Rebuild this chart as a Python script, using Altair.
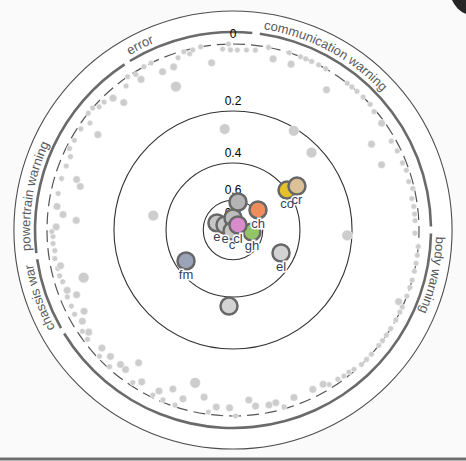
import math
import altair as alt
import pandas as pd

# ---------------- data ----------------
cat_names = ["error", "communication warning", "body warning", "chassis warning", "powertrain warning"]
cat_labels = ["error", "communication warning", "body warning", "chassis war", "powertrain warning"]
cat_start = [328.6, 7.8, 91.0, 240.3, 263.3]
cat_end = [365.6, 89.0, 238.5, 261.5, 326.8]

ring_values = [0.0, 0.2, 0.4, 0.6, 0.8]
ring_labels = ["0", "0.2", "0.4", "0.6", "0.8"]

node_ids = ["e1", "e2", "g2", "c", "g1", "ch", "gh", "cl", "co", "cr", "el", "fm", "b1"]
node_labels = ["e", "e", "", "c", "", "ch", "gh", "cl", "co", "cr", "el", "fm", ""]
node_theta = [293.6, 302.0, 0.0, 225.0, 10.1, 51.3, 96.0, 45.0, 53.5, 55.5, 115.6, 236.6, 183.0]
node_value = [0.693, 0.775, 0.746, 0.913, 0.609, 0.585, 0.680, 0.805, 0.399, 0.354, 0.465, 0.450, 0.360]
node_colors = ["#c6c6c6", "#c6c6c6", "#bdbdbd", "#c6c6c6", "#b4b4b4", "#ef8c5c", "#93c467",
               "#d98ccb", "#e5c22c", "#dcc096", "#d3d3d3", "#9aa3b8", "#d3d3d3"]

dot_theta = [358.6, 356.7, 359.2, 1.4, 4.3, 7.1, 11.0, 13.2, 17.6, 19.3,
             21.3, 23.0, 25.0, 27.4, 29.9, 31.5, 33.7, 37.9, 39.7, 41.8,
             44.4, 45.4, 47.5, 50.0, 54.3, 58.2, 60.7, 64.3, 66.3, 68.4,
             71.0, 74.6, 77.0, 80.0, 82.6, 85.0, 87.0, 91.0, 92.7, 95.1,
             97.8, 100.3, 102.8, 105.6, 108.0, 110.8, 113.4, 114.5, 116.2, 118.9,
             122.0, 124.4, 126.5, 128.4, 131.9, 134.1, 136.3, 139.0, 140.8, 142.8,
             144.9, 148.1, 149.7, 153.4, 160.0, 163.9, 166.1, 168.4, 172.7, 174.7,
             179.2, 181.1, 185.4, 187.7, 189.8, 193.9, 196.5, 198.3, 200.7, 202.4,
             204.7, 205.9, 211.0, 213.3, 215.4, 217.6, 219.9, 222.1, 224.1, 226.6,
             228.0, 233.1, 234.7, 236.1, 238.8, 241.4, 242.0, 244.8, 247.5, 248.0,
             250.0, 252.3, 253.1, 255.2, 257.6, 258.3, 260.9, 263.4, 265.7, 267.9,
             269.5, 271.0, 273.5, 275.2, 277.6, 280.3, 281.8, 285.9, 286.7, 287.9,
             291.0, 294.3, 296.5, 299.5, 303.6, 305.2, 306.8, 308.9, 311.0, 312.6,
             314.8, 317.7, 319.4, 323.4, 325.5, 328.0, 328.6, 331.4, 333.9, 336.0,
             338.3, 340.0, 342.3, 344.6, 346.2, 347.4, 350.0, 352.7, 355.3]
dot_value = [0.000, 0.013, 0.016, 0.016, 0.015, 0.013, 0.000, 0.028, 0.000, 0.028,
             0.000, 0.000, 0.000, 0.000, 0.000, 0.209, 0.048, 0.000, 0.000, 0.000,
             0.000, 0.230, 0.000, 0.005, 0.008, 0.064, 0.012, 0.010, 0.066, 0.010,
             0.007, 0.010, 0.004, 0.012, 0.010, 0.010, 0.010, 0.011, 0.216, 0.000,
             0.000, 0.000, 0.000, 0.000, 0.000, 0.000, 0.015, 0.000, 0.000, 0.000,
             0.000, 0.000, 0.000, 0.000, 0.000, 0.000, 0.000, 0.004, 0.007, 0.007,
             0.010, 0.011, 0.020, 0.021, 0.021, 0.005, 0.022, 0.020, 0.023, 0.042,
             0.000, 0.022, 0.022, 0.006, 0.045, 0.080, 0.027, 0.004, 0.044, 0.006,
             0.024, 0.007, 0.024, 0.009, 0.064, 0.027, 0.029, 0.005, 0.027, 0.006,
             0.026, 0.011, 0.025, 0.012, 0.027, 0.045, 0.018, 0.020, 0.046, 0.020,
             0.026, 0.082, 0.022, 0.018, 0.018, 0.027, 0.015, 0.018, 0.015, 0.016,
             0.013, 0.025, 0.081, 0.042, 0.023, 0.340, 0.020, 0.076, 0.019, 0.060,
             0.020, 0.021, 0.009, 0.010, 0.009, 0.057, 0.020, 0.000, 0.000, 0.011,
             0.012, 0.021, 0.050, 0.018, 0.000, 0.007, 0.026, 0.000, 0.000, 0.035,
             0.089, 0.034, 0.014, 0.003, 0.012, 0.004, 0.000, 0.048, 0.262]
dot_weight = [1, 1, 1, 1, 1, 1, 1, 2, 1, 2,
              1, 1, 1, 1, 1, 3, 2, 1, 1, 1,
              1, 3, 1, 1, 2, 2, 1, 1, 2, 1,
              1, 1, 1, 1, 1, 1, 1, 1, 3, 1,
              1, 1, 1, 1, 1, 1, 2, 1, 1, 1,
              1, 1, 1, 1, 1, 1, 1, 1, 1, 1,
              1, 1, 2, 2, 2, 1, 2, 2, 2, 2,
              1, 2, 2, 1, 2, 3, 2, 1, 2, 1,
              2, 1, 2, 1, 2, 2, 2, 1, 2, 1,
              2, 1, 2, 1, 2, 2, 1, 1, 2, 1,
              2, 3, 1, 1, 1, 2, 1, 1, 1, 1,
              1, 2, 2, 2, 2, 3, 1, 2, 1, 2,
              1, 1, 1, 1, 1, 2, 1, 1, 1, 1,
              1, 2, 2, 1, 1, 1, 2, 1, 1, 2,
              3, 2, 1, 1, 1, 1, 1, 2, 3]
assert len(dot_theta) == len(dot_value) == len(dot_weight)

# ---------------- geometry / style ----------------
R0 = 186.0      # pixel radius of value 0
ROUT = 219.0    # outer circle
RCAT = 198.0    # category arcs
RTXT = 203.0    # category label baseline
PLOT = 2 * ROUT
DOM = ROUT / R0
FONT = "Liberation Sans"
FS = 13

xs = alt.Scale(domain=[-DOM, DOM], nice=False, zero=False)
ys = alt.Scale(domain=[-DOM, DOM], nice=False, zero=False)
ts = alt.Scale(domain=[0, 360], range=[0, 2 * math.pi], nice=False, zero=False)
rs = alt.Scale(domain=[0, 1], range=[0, R0], nice=False, zero=True)

# Arial-like advance widths (per 1000 em) for curved labels
ADV = {" ": 278, "a": 556, "b": 556, "c": 500, "d": 556, "e": 556, "g": 556, "h": 556,
       "i": 222, "m": 833, "n": 556, "o": 556, "p": 556, "r": 333, "s": 500, "t": 278,
       "u": 556, "w": 722, "y": 500}
chars = []
for lab, s in zip(cat_labels, cat_start):
    pos = 3.0
    for ch in lab:
        adv = ADV.get(ch, 556) * FS / 1000.0
        if ch != " ":
            chars.append({"ch": ch, "ang": (s + math.degrees((pos + adv / 2) / RTXT)) % 360})
        pos += adv

df_cat = pd.DataFrame({"name": cat_names, "t0": cat_start, "t1": cat_end})
df_ring = pd.DataFrame({"v": ring_values, "label": ring_labels})
df_nodes = pd.DataFrame({"id": node_ids, "label": node_labels, "theta": node_theta, "v": node_value})
df_dots = pd.DataFrame({"theta": dot_theta, "v": dot_value, "w": dot_weight})
df_chars = pd.DataFrame(chars)
df_one = pd.DataFrame({"t0": [0], "t1": [360]})

polar = dict(
    rr="pow(1 - datum.v, 2)",
    x="pow(1 - datum.v, 2) * sin(datum.theta * PI / 180)",
    y="pow(1 - datum.v, 2) * cos(datum.theta * PI / 180)",
)

theta_enc = dict(theta=alt.Theta("t0:Q", scale=ts, stack=False), theta2="t1:Q")

disk = alt.Chart(df_one).mark_arc(radius=ROUT, fill="white", stroke="#4d4d4d", strokeWidth=1.1).encode(**theta_enc)

cat_arcs = alt.Chart(df_cat).mark_arc(radius=RCAT + 1.3, radius2=RCAT - 1.3, color="#6a6a6a").encode(**theta_enc)

ring_base = alt.Chart(df_ring).transform_calculate(rr="pow(1 - datum.v, 2)", t0="0", t1="360")
rings = ring_base.transform_filter("datum.v > 0").mark_arc(filled=False, color="#333333", strokeWidth=1.1).encode(
    radius=alt.Radius("rr:Q", scale=rs, stack=False), **theta_enc)
ring0 = ring_base.transform_filter("datum.v == 0").mark_arc(
    filled=False, color="#555555", strokeWidth=1.2, strokeDash=[12, 6]).encode(
    radius=alt.Radius("rr:Q", scale=rs, stack=False), **theta_enc)

ring_text = alt.Chart(df_ring).transform_calculate(rr="pow(1 - datum.v, 2)", x0="0").mark_text(
    dy=-6, fontSize=12, color="black", baseline="alphabetic", font=FONT).encode(
    x=alt.X("x0:Q", scale=xs, axis=None), y=alt.Y("rr:Q", scale=ys, axis=None), text="label:N")

dots = alt.Chart(df_dots).transform_calculate(**polar).mark_circle(
    color="#cdcdcd", opacity=1, stroke="white", strokeWidth=0.5).encode(
    x=alt.X("x:Q", scale=xs, axis=None), y=alt.Y("y:Q", scale=ys, axis=None),
    size=alt.Size("w:Q", scale=alt.Scale(domain=[1, 2, 3], range=[32, 58, 115]), legend=None))

cat_text = alt.Chart(df_chars).transform_calculate(
    x=f"{RTXT / R0} * sin(datum.ang * PI / 180)",
    y=f"{RTXT / R0} * cos(datum.ang * PI / 180)").mark_text(
    fontSize=FS, font=FONT, color="#5a5a5a", baseline="alphabetic", align="center").encode(
    x=alt.X("x:Q", scale=xs, axis=None), y=alt.Y("y:Q", scale=ys, axis=None),
    angle=alt.Angle("ang:Q", scale=None), text="ch:N")

nodes = alt.Chart(df_nodes).transform_calculate(**polar).mark_circle(
    size=290, opacity=1, stroke="#676767", strokeWidth=2.5).encode(
    x=alt.X("x:Q", scale=xs, axis=None), y=alt.Y("y:Q", scale=ys, axis=None),
    color=alt.Color("id:N", scale=alt.Scale(domain=node_ids, range=node_colors), legend=None))

node_halo = alt.Chart(df_nodes).transform_calculate(**polar).mark_text(
    dy=14, fontSize=13, font=FONT, stroke="white", strokeWidth=3, color="white", baseline="middle").encode(
    x=alt.X("x:Q", scale=xs, axis=None), y=alt.Y("y:Q", scale=ys, axis=None), text="label:N")
node_text = alt.Chart(df_nodes).transform_calculate(**polar).mark_text(
    dy=14, fontSize=13, font=FONT, color="#34405a", baseline="middle").encode(
    x=alt.X("x:Q", scale=xs, axis=None), y=alt.Y("y:Q", scale=ys, axis=None), text="label:N")

# screenshot frame decorations
frame_line = alt.Chart(df_one).mark_rule(color="#6e6e6e", strokeWidth=3).encode(
    x=alt.value(-14), x2=alt.value(PLOT + 14), y=alt.value(PLOT + 10))
corner = alt.Chart(df_one).mark_circle(color="#262626", opacity=1, size=2704).encode(
    x=alt.value(462), y=alt.value(-21))

chart = alt.layer(
    disk, cat_arcs, rings, ring0, ring_text, dots, cat_text, nodes, node_halo, node_text,
    frame_line, corner
).properties(
    width=PLOT, height=PLOT,
    padding={"left": 14, "top": 11, "right": 14, "bottom": 12},
    autosize=alt.AutoSizeParams(type="none"),
    background="#fafafa",
).configure_view(strokeWidth=0)

chart.save("out.html", embed_options={"renderer": "svg", "actions": False})
